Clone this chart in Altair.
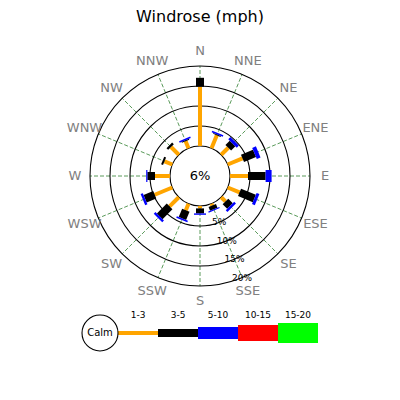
import altair as alt
import pandas as pd

# ---------------- data ----------------
directions = ["N", "NNE", "NE", "ENE", "E", "ESE", "SE", "SSE",
              "S", "SSW", "SW", "WSW", "W", "WNW", "NW", "NNW"]
speed_bins = ["1-3", "3-5", "5-10", "10-15", "15-20"]
bin_colors = ["#ffa500", "#000000", "#0000ff", "#ff0000", "#00ff00"]

# frequency (%) per direction for each speed bin
freq_1_3 = [14.8, 3.5, 2.5, 4.0, 4.5, 3.2, 1.5, 0.5, 0.6, 1.75, 3.25, 4.75, 3.75, 2.1, 2.75, 1.9]
freq_3_5 = [2.25, 0.25, 1.5, 3.25, 4.4, 4.0, 1.6, 1.0, 1.25, 2.25, 3.5, 2.6, 1.9, 0.5, 0.6, 0.25]
freq_5_10 = [0, 0.4, 0.75, 1.0, 1.5, 0.75, 0.6, 0.3, 0.35, 0.4, 0.6, 0.6, 0.3, 0, 0, 0.4]
freq_10_15 = [0, 0, 0, 0, 0, 0, 0, 0, 0, 0, 0, 0, 0, 0, 0, 0]
freq_15_20 = [0, 0, 0, 0, 0, 0, 0, 0, 0, 0, 0, 0, 0, 0, 0, 0]
calm_label = "6%"
ring_pcts = [5, 10, 15, 20]
ring_labels = ["5%", "10%", "15%", "20%"]

# ---------------- style / geometry ----------------
bin_widths = [4, 8, 12, 16, 20]
CALM_R = 30        # px radius of calm circle (0 %)
PX_PER_PCT = 4     # px per percent
OUTER_R = 110
LABEL_R = 125
W, H = 384, 366
PAD_TOP = 26
CX_PAGE, CY_PAGE = 192, 142  # centre inside plot area
FONT = "DejaVu Sans"

xs = alt.Scale(domain=[-CX_PAGE, W - CX_PAGE], nice=False, zero=False)
ys = alt.Scale(domain=[CY_PAGE - H, CY_PAGE], nice=False, zero=False)


def X(f):
    return alt.X(f + ":Q", scale=xs, axis=None)


def Y(f):
    return alt.Y(f + ":Q", scale=ys, axis=None)


series = [freq_1_3, freq_3_5, freq_5_10, freq_10_15, freq_15_20]
rows = []
for b, (name, vals) in enumerate(zip(speed_bins, series)):
    for i, d in enumerate(directions):
        rows.append({"dir": d, "i": i, "bin": name, "b": b, "value": vals[i],
                     "width": bin_widths[b]})
bar_df = pd.DataFrame(rows)
dir_df = pd.DataFrame({"dir": directions, "i": list(range(len(directions)))})
ring_df = pd.DataFrame({"pct": ring_pcts, "label": ring_labels})
legend_df = pd.DataFrame({"bin": speed_bins, "b": list(range(len(speed_bins))),
                          "width": bin_widths})
color_scale = alt.Scale(domain=speed_bins, range=bin_colors)

# spokes
spokes = alt.Chart(dir_df).transform_calculate(
    th="datum.i * PI / 8").transform_calculate(
    x="0", y="0").transform_calculate(
    x2=f"{OUTER_R} * sin(datum.th)").transform_calculate(
    y2=f"{OUTER_R} * cos(datum.th)"
).mark_rule(color="#5a9a5a", strokeDash=[4, 2], strokeWidth=1).encode(
    x=X("x"), y=Y("y"), x2="x2:Q", y2="y2:Q")

# rings
rings = alt.Chart(ring_df).transform_calculate(
    r=f"{CALM_R} + {PX_PER_PCT} * datum.pct").transform_calculate(
    s="4 * datum.r * datum.r").transform_calculate(
    x="0").transform_calculate(y="0"
).mark_point(shape="circle", filled=False, color="black", strokeWidth=1.1, opacity=1).encode(
    x=X("x"), y=Y("y"), size=alt.Size("s:Q", scale=None))

# calm circle
calm = alt.Chart(pd.DataFrame({"label": [calm_label]})).transform_calculate(
    s=f"4 * {CALM_R} * {CALM_R}").transform_calculate(x="0").transform_calculate(y="0"
).mark_point(shape="circle", filled=True, fill="white", stroke="black", strokeWidth=1.1,
             opacity=1, fillOpacity=1).encode(
    x=X("x"), y=Y("y"), size=alt.Size("s:Q", scale=None))

calm_text = alt.Chart(pd.DataFrame({"label": [calm_label]})).transform_calculate(
    x="0").transform_calculate(y="0").mark_text(
    font=FONT, fontSize=13, color="black", baseline="middle", align="center").encode(
    x=X("x"), y=Y("y"), text="label:N")

# bars
bars = alt.Chart(bar_df).transform_window(
    cum="sum(value)", groupby=["dir"], sort=[alt.SortField("b", order="ascending")],
    frame=[None, 0]
).transform_filter("datum.value > 0").transform_calculate(
    th="datum.i * PI / 8").transform_calculate(
    r0=f"{CALM_R} + {PX_PER_PCT} * (datum.cum - datum.value)").transform_calculate(
    r1=f"{CALM_R} + {PX_PER_PCT} * datum.cum").transform_calculate(
    x="datum.r0 * sin(datum.th)").transform_calculate(
    y="datum.r0 * cos(datum.th)").transform_calculate(
    x2="datum.r1 * sin(datum.th)").transform_calculate(
    y2="datum.r1 * cos(datum.th)"
).mark_rule(strokeCap="butt").encode(
    x=X("x"), y=Y("y"), x2="x2:Q", y2="y2:Q",
    color=alt.Color("bin:N", scale=color_scale, legend=None),
    strokeWidth=alt.StrokeWidth("width:Q", scale=None))

# ring labels (along SSE)
ring_text = alt.Chart(ring_df).transform_calculate(
    r=f"{CALM_R} + {PX_PER_PCT} * datum.pct").transform_calculate(
    x="datum.r * sin(7 * PI / 8)").transform_calculate(
    y="datum.r * cos(7 * PI / 8)"
).mark_text(font=FONT, fontSize=9, color="black", baseline="middle", align="center").encode(
    x=X("x"), y=Y("y"), text="label:N")

# direction labels
dir_text = alt.Chart(dir_df).transform_calculate(
    th="datum.i * PI / 8").transform_calculate(
    x=f"{LABEL_R} * sin(datum.th)").transform_calculate(
    y=f"{LABEL_R} * cos(datum.th)"
).mark_text(font=FONT, fontSize=13, color="#808080", baseline="middle", align="center").encode(
    x=X("x"), y=Y("y"), text="dir:N")

# custom legend
LEG_Y = -157
LEG_X0 = -82
SEG = 40
leg_calm = alt.Chart(pd.DataFrame({"label": ["Calm"]})).transform_calculate(
    x=f"{LEG_X0 - 18}").transform_calculate(y=f"{LEG_Y}").transform_calculate(
    s="4 * 18 * 18"
).mark_point(shape="circle", filled=True, fill="white", stroke="black", strokeWidth=1.1,
             opacity=1).encode(x=X("x"), y=Y("y"), size=alt.Size("s:Q", scale=None))
leg_calm_text = alt.Chart(pd.DataFrame({"label": ["Calm"]})).transform_calculate(
    x=f"{LEG_X0 - 18}").transform_calculate(y=f"{LEG_Y}").mark_text(
    font=FONT, fontSize=10, color="black", baseline="middle", align="center").encode(
    x=X("x"), y=Y("y"), text="label:N")
leg_segs = alt.Chart(legend_df).transform_calculate(
    x=f"{LEG_X0} + {SEG} * datum.b").transform_calculate(
    x2=f"{LEG_X0} + {SEG} * (datum.b + 1)").transform_calculate(
    y=f"{LEG_Y}"
).mark_rule(strokeCap="butt").encode(
    x=X("x"), x2="x2:Q", y=Y("y"),
    color=alt.Color("bin:N", scale=color_scale, legend=None),
    strokeWidth=alt.StrokeWidth("width:Q", scale=None))
leg_text = alt.Chart(legend_df).transform_calculate(
    x=f"{LEG_X0} + {SEG} * (datum.b + 0.5)").transform_calculate(
    y=f"{LEG_Y + 18}").mark_text(
    font=FONT, fontSize=9, color="black", baseline="middle", align="center").encode(
    x=X("x"), y=Y("y"), text="bin:N")

chart = alt.layer(
    spokes, rings, calm, bars, ring_text, dir_text, calm_text,
    leg_segs, leg_calm, leg_calm_text, leg_text
).properties(
    width=W, height=H,
    title=alt.TitleParams("Windrose (mph)", font=FONT, fontSize=16, fontWeight="normal",
                          color="black", anchor="middle", offset=9),
    padding={"top": PAD_TOP, "left": 0, "right": 0, "bottom": 0},
    autosize=alt.AutoSizeParams(type="none"),
).configure_view(stroke=None)

chart.save("out.html", embed_options={"renderer": "svg", "actions": False})
